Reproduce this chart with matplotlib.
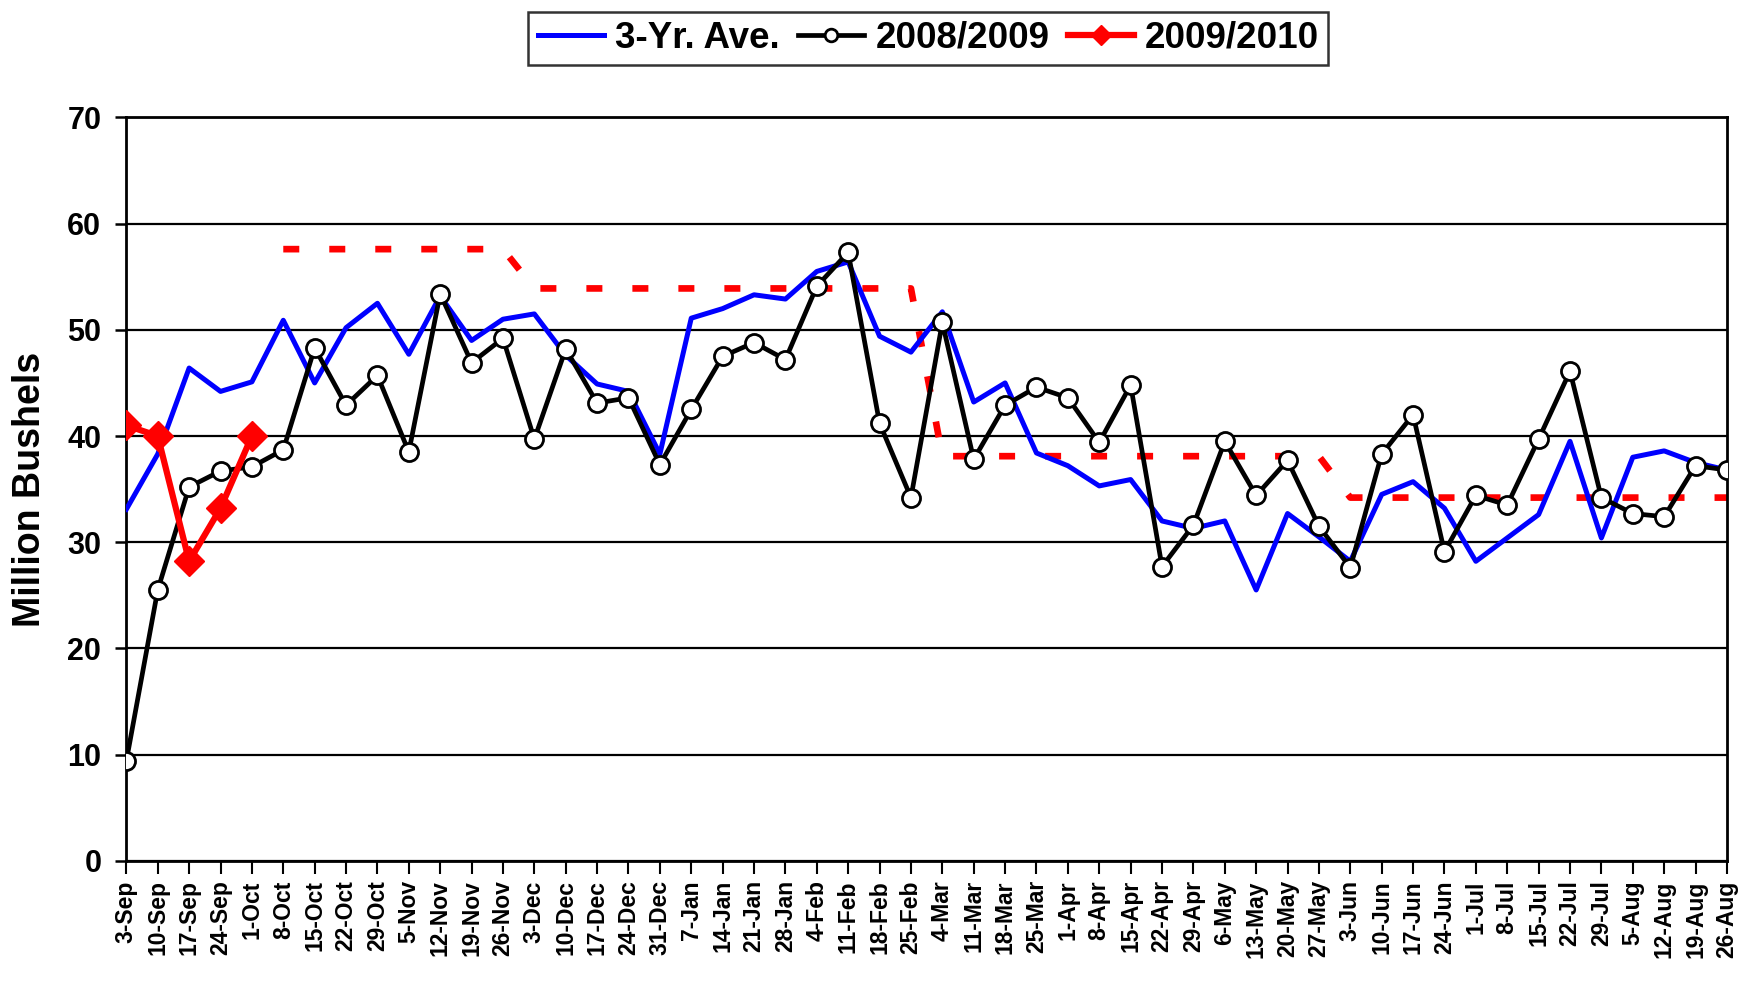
import numpy as np
import matplotlib
matplotlib.use("Agg")
import matplotlib.pyplot as plt

plt.rcParams['font.family'] = ['Liberation Sans', 'DejaVu Sans']
plt.rcParams['font.weight'] = 'bold'

# weekly categories
weeks = ['3-Sep', '10-Sep', '17-Sep', '24-Sep', '1-Oct', '8-Oct', '15-Oct', '22-Oct', '29-Oct',
         '5-Nov', '12-Nov', '19-Nov', '26-Nov', '3-Dec', '10-Dec', '17-Dec', '24-Dec', '31-Dec',
         '7-Jan', '14-Jan', '21-Jan', '28-Jan', '4-Feb', '11-Feb', '18-Feb', '25-Feb',
         '4-Mar', '11-Mar', '18-Mar', '25-Mar', '1-Apr', '8-Apr', '15-Apr', '22-Apr', '29-Apr',
         '6-May', '13-May', '20-May', '27-May', '3-Jun', '10-Jun', '17-Jun', '24-Jun',
         '1-Jul', '8-Jul', '15-Jul', '22-Jul', '29-Jul', '5-Aug', '12-Aug', '19-Aug', '26-Aug']

# 3-year average
ave3 = [33.1, 38.3, 46.4, 44.2, 45.1, 50.9, 45.0, 50.2, 52.5, 47.7, 53.2, 49.0, 51.0,
        51.5, 47.6, 44.9, 44.2, 38.3, 51.1, 52.0, 53.3, 52.9, 55.5, 56.4, 49.4, 47.9,
        51.7, 43.2, 45.0, 38.4, 37.2, 35.3, 35.9, 32.0, 31.3, 32.0, 25.5, 32.7, 30.5,
        28.2, 34.5, 35.7, 33.2, 28.2, 30.4, 32.6, 39.5, 30.4, 38.0, 38.6, 37.5, 36.8]

# 2008/2009
y0809 = [9.4, 25.5, 35.2, 36.7, 37.1, 38.7, 48.3, 42.9, 45.7, 38.5, 53.4, 46.9, 49.2,
         39.7, 48.2, 43.1, 43.6, 37.3, 42.5, 47.5, 48.8, 47.2, 54.1, 57.3, 41.2, 34.2,
         50.7, 37.8, 42.9, 44.6, 43.6, 39.4, 44.8, 27.7, 31.6, 39.5, 34.4, 37.7, 31.5,
         27.6, 38.3, 42.0, 29.1, 34.4, 33.5, 39.7, 46.1, 34.2, 32.7, 32.4, 37.2, 36.8]

# 2009/2010 (first five weeks)
y0910 = [41.0, 40.0, 28.2, 33.2, 40.0]

# needed weekly pace (dashed red)
pace = ([np.nan] * 5 + [57.6] * 8 + [53.9] * 13 + [38.1] * 13 + [34.2] * 13)

x = np.arange(len(weeks))

fig = plt.figure(figsize=(17.55, 9.84), dpi=100)
ax = fig.add_axes([0.072, 0.1253, 0.912, 0.7553])

#horizontal grid
ax.yaxis.grid(True, color='black', linewidth=1.6, zorder=0)
ax.set_axisbelow(True)

#dashed pace line
ax.plot(x, pace, color='#ff0000', linewidth=4.8, linestyle=(0, (2.4, 4.5)), zorder=2)

#series
ax.plot(x, ave3, color='#0000ff', linewidth=3.6, label='3-Yr. Ave.', zorder=3)
ax.plot(x, y0809, color='black', linewidth=3.4, marker='o', markersize=13,
        markerfacecolor='white', markeredgecolor='black', markeredgewidth=2.0,
        label='2008/2009', zorder=4)
ax.plot(x[:len(y0910)], y0910, color='#ff0000', linewidth=4.5, marker='D', markersize=15,
        label='2009/2010', zorder=5)

ax.set_xlim(0, len(weeks) - 1)
ax.set_ylim(0, 70)
ax.set_yticks(range(0, 71, 10))
ax.set_xticks(x)
ax.set_xticklabels(weeks, rotation=90, fontsize=16.5, fontweight='bold')
ax.tick_params(axis='y', labelsize=22, length=8, width=1.8, direction='out', pad=10)
ax.tick_params(axis='x', length=9, width=1.5, direction='out', pad=5)
for lab in ax.get_yticklabels():
    lab.set_fontweight('bold')

for s in ax.spines.values():
    s.set_linewidth(2.0)
    s.set_color('black')

ax.set_ylabel('Million Bushels', fontsize=27, fontweight='bold', labelpad=14)

leg = fig.legend(loc='center', bbox_to_anchor=(0.529, 0.961), ncol=3, fontsize=26.5,
                 frameon=True, fancybox=False, edgecolor='black', handlelength=1.8,
                 handletextpad=0.3, columnspacing=0.5, borderpad=0.25, markerscale=0.7)
leg.get_frame().set_linewidth(1.8)
for t in leg.get_texts():
    t.set_fontweight('bold')

plt.savefig('out.png', dpi=100)
